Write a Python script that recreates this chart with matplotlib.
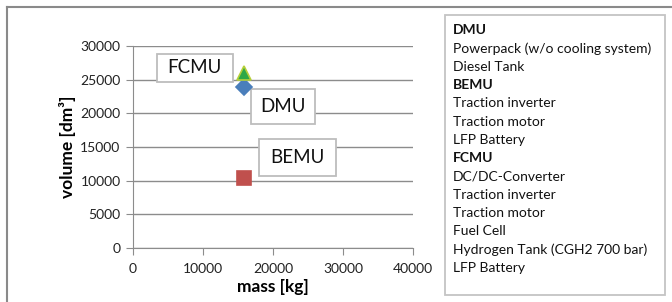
import matplotlib.pyplot as plt
import matplotlib.patches as mpatches
import matplotlib.transforms as mtransforms
from matplotlib.lines import Line2D

plt.rcParams['font.family'] = ['Lato', 'DejaVu Sans']

# data
names = ["DMU", "BEMU", "FCMU"]
mass = [15800, 15800, 15800]
volume = [23900, 10400, 26000]

legend_lines = [
    ("DMU", True),
    ("Powerpack (w/o cooling system)", False),
    ("Diesel Tank", False),
    ("BEMU", True),
    ("Traction inverter", False),
    ("Traction motor", False),
    ("LFP Battery", False),
    ("FCMU", True),
    ("DC/DC-Converter", False),
    ("Traction inverter", False),
    ("Traction motor", False),
    ("Fuel Cell", False),
    ("Hydrogen Tank (CGH2 700 bar)", False),
    ("LFP Battery", False),
]

STYLE = {
    "DMU": dict(marker="D", color="#4a7ebb", mec="#4a7ebb", ms=8.5),
    "BEMU": dict(marker="s", color="#c0504d", mec="#c0504d", ms=9.5),
    "FCMU": dict(marker="^", color="#2ca847", mec="#b5cf3a", ms=10),
}
# label box: centre offset from marker (px, y up) and box size (px)
LABEL_BOX = {
    "FCMU": ((-49, 5), (76, 28)),
    "DMU": ((39, -19), (64, 35)),
    "BEMU": ((54, 20), (77, 37)),
}

W, H = 672, 302
fig = plt.figure(figsize=(W / 100, H / 100), dpi=100)
ax = fig.add_axes([133 / W, 1 - 248 / H, 280 / W, 202 / H])

grid_c = "#8c8c8c"
ax.set_xlim(0, 40000)
ax.set_ylim(0, 30000)
ax.set_xticks(range(0, 40001, 10000))
ax.set_yticks(range(0, 30001, 5000))
ax.grid(axis="y", color=grid_c, linewidth=1)
ax.set_axisbelow(True)
ax.spines[["top", "right"]].set_visible(False)
for s in ["left", "bottom"]:
    ax.spines[s].set_color(grid_c)
ax.tick_params(direction="out", length=5, color=grid_c, labelsize=10,
               labelcolor="#222222", pad=4)
ax.tick_params(axis="x", pad=6)
ax.set_xlabel("mass [kg]", fontsize=12.5, fontweight="bold", labelpad=3)
ax.set_ylabel("volume [dm³]", fontsize=12.5, fontweight="bold", labelpad=3)

for n, x, y in zip(names, mass, volume):
    ax.plot([x], [y], linestyle="none", mew=1.2, zorder=5, clip_on=False,
            **STYLE[n])
    (dx, dy), (bw, bh) = LABEL_BOX[n]
    trans = mtransforms.IdentityTransform() + \
        mtransforms.ScaledTranslation(x, y, ax.transData)
    ax.add_artist(mpatches.Rectangle(
        (dx - bw / 2, dy - bh / 2), bw, bh, transform=trans,
        facecolor="white", edgecolor="#bdbdbd", linewidth=1.3, zorder=4))
    ax.text(dx, dy, n, transform=trans, ha="center", va="center",
            fontsize=13.5, color="#111111", zorder=6)

# outer frame
fig.add_artist(Line2D([7 / W, 1], [1 - 7 / H] * 2, color="#8a8a8a", lw=1.5))
fig.add_artist(Line2D([7 / W] * 2, [0, 1 - 7 / H], color="#8a8a8a", lw=1.5))

# component list box
fig.add_artist(mpatches.Rectangle(
    (445 / W, 1 - 295 / H), 220 / W, 280 / H, transform=fig.transFigure,
    facecolor="white", edgecolor="#c4c4c4", linewidth=1.3))
for i, (txt, bold) in enumerate(legend_lines):
    fig.text(453 / W, 1 - (30 + i * 18.3) / H, txt, ha="left", va="center",
             fontsize=10, fontweight="bold" if bold else "normal",
             color="#111111")

fig.savefig("out.png", dpi=100)
